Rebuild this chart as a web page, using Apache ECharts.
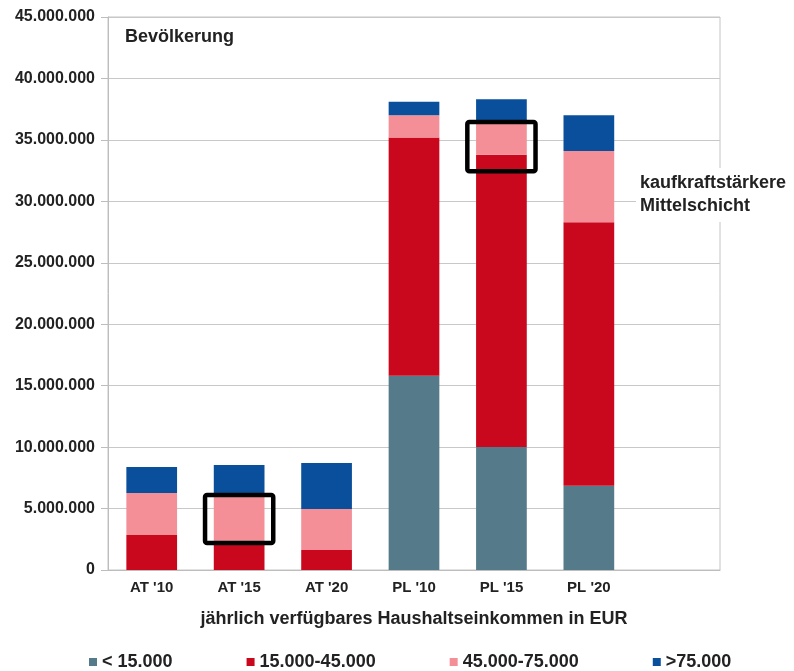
<!DOCTYPE html>
<html>
<head>
<meta charset="utf-8">
<script src="https://cdn.jsdelivr.net/npm/echarts@6/dist/echarts.min.js"></script>
<style>
  html, body { margin: 0; padding: 0; background: #fff; }
  #main { width: 794px; height: 671px; }
</style>
</head>
<body>
<div id="main"></div>
<script>
// Kategorien (letzte Spalte ist im Original leer)
var categories = ["AT '10", "AT '15", "AT '20", "PL '10", "PL '15", "PL '20", '']
var seriesNames = ['< 15.000', '15.000-45.000', '45.000-75.000', '>75.000']
var low = [0, 0, 0, 15800000, 10000000, 6850000]
var midLow = [2850000, 2100000, 1630000, 19400000, 23800000, 21450000]
var midHigh = [3420000, 4000000, 3330000, 1800000, 2600000, 5800000]
var high = [2110000, 2440000, 3740000, 1100000, 1900000, 2900000]
var colors = ['#557b8a', '#c9081d', '#f48f98', '#0a4f9c']
// markierte Segmente (Rahmen), Wertebereich auf der y-Achse
var boxes = [
  { cat: "AT '15", from: 2200000, to: 6100000 },
  { cat: "PL '15", from: 32450000, to: 36450000 }
]

function fmt (v) {
  return String(v).replace(/\B(?=(\d{3})+(?!\d))/g, '.')
}

var chart = echarts.init(document.getElementById('main'))
var font = 'Liberation Sans, Arial, sans-serif'
var allData = [low, midLow, midHigh, high]

var option = {
  backgroundColor: '#fff',
  animation: false,
  grid: {
    left: 108,
    right: 74,
    top: 17,
    bottom: 101,
    show: true,
    borderColor: '#c4c4c4',
    borderWidth: 1
  },
  legend: {
    data: seriesNames,
    left: 84,
    top: 648,
    icon: 'rect',
    itemWidth: 8,
    itemHeight: 8,
    itemGap: 74,
    textStyle: {
      fontFamily: font,
      fontSize: 18,
      fontWeight: 'bold',
      color: '#222'
    }
  },
  xAxis: {
    type: 'category',
    data: categories,
    name: 'jährlich verfügbares Haushaltseinkommen in EUR',
    nameLocation: 'middle',
    nameGap: 40,
    nameTextStyle: {
      fontFamily: font,
      fontSize: 18,
      fontWeight: 'bold',
      color: '#222'
    },
    axisLine: { lineStyle: { color: '#bdbdbd' } },
    axisTick: { length: 4, lineStyle: { color: '#bdbdbd' } },
    axisLabel: {
      interval: 0,
      margin: 10,
      fontFamily: font,
      fontSize: 15,
      fontWeight: 'bold',
      color: '#222'
    }
  },
  yAxis: {
    type: 'value',
    min: 0,
    max: 45000000,
    interval: 5000000,
    axisLine: { show: true, lineStyle: { color: '#bdbdbd' } },
    axisTick: { show: true, length: 7, lineStyle: { color: '#bdbdbd' } },
    splitLine: { lineStyle: { color: '#c8c8c8' } },
    axisLabel: {
      margin: 13,
      fontFamily: font,
      fontSize: 16,
      fontWeight: 'bold',
      color: '#222',
      formatter: fmt
    }
  },
  series: seriesNames.map(function (name, i) {
    return {
      name: name,
      type: 'bar',
      stack: 'total',
      barWidth: '58%',
      itemStyle: { color: colors[i] },
      data: allData[i]
    }
  }),
  graphic: [
    {
      type: 'text',
      left: 125,
      top: 28,
      style: {
        text: 'Bevölkerung',
        font: 'bold 18px ' + font,
        fill: '#222'
      }
    },
    {
      type: 'text',
      left: 636,
      top: 168,
      z: 50,
      style: {
        text: 'kaufkraftstärkere\nMittelschicht',
        font: 'bold 18px ' + font,
        lineHeight: 23,
        fill: '#222',
        backgroundColor: '#fff',
        padding: [4, 4, 4, 4]
      }
    }
  ]
}

chart.setOption(option)

// Rahmen über Achsen-Umrechnung zeichnen
var catStep = chart.convertToPixel({ xAxisIndex: 0 }, categories[1]) -
  chart.convertToPixel({ xAxisIndex: 0 }, categories[0])
var boxGraphics = boxes.map(function (b) {
  var cx = chart.convertToPixel({ xAxisIndex: 0 }, b.cat)
  var y1 = chart.convertToPixel({ yAxisIndex: 0 }, b.to)
  var y2 = chart.convertToPixel({ yAxisIndex: 0 }, b.from)
  var w = catStep * 0.78
  return {
    type: 'rect',
    shape: { x: cx - w / 2, y: y1, width: w, height: y2 - y1, r: 2 },
    style: { fill: 'none', stroke: '#000', lineWidth: 4.5 },
    z: 100
  }
})
chart.setOption({ graphic: option.graphic.concat(boxGraphics) })
</script>
</body>
</html>
